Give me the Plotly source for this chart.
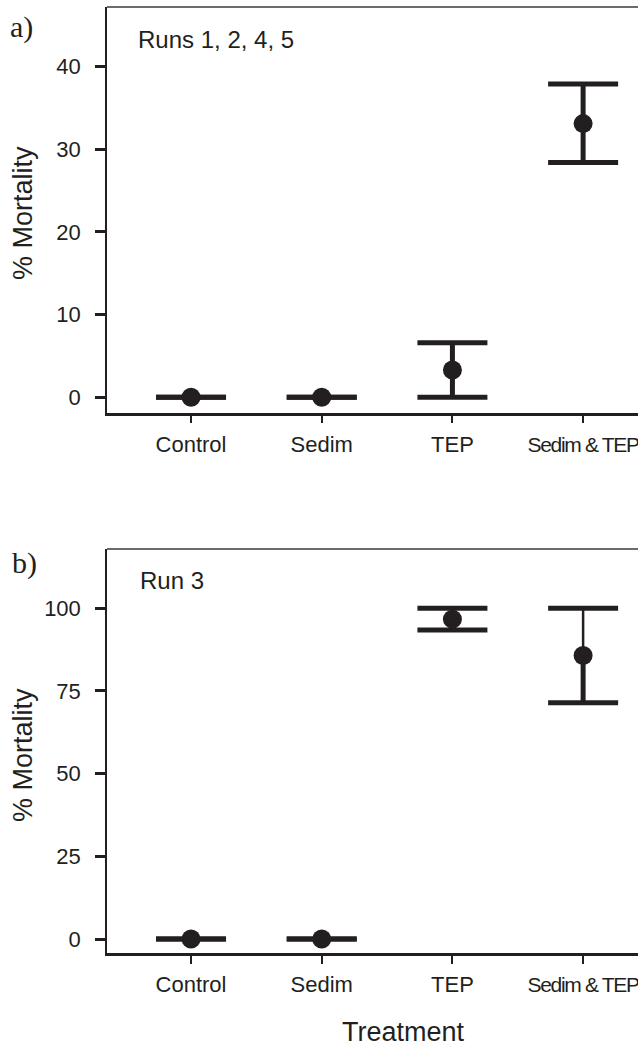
import plotly.graph_objects as go

# ---------------- data ----------------
categories = ["Control", "Sedim", "TEP", "Sedim & TEP"]

a_mean = [0.0, 0.0, 3.3, 33.1]
a_err_up = [0.0, 0.0, 3.3, 4.8]
a_err_down = [0.0, 0.0, 3.3, 4.7]

b_mean = [0.0, 0.0, 96.7, 85.7]
b_err_up = [0.0, 0.0, 3.3, 14.3]
b_err_down = [0.0, 0.0, 3.3, 14.3]

a_ticks = [0, 10, 20, 30, 40]
b_ticks = [0, 25, 50, 75, 100]

panel_labels = ["a)", "b)"]
panel_notes = ["Runs 1, 2, 4, 5", "Run 3"]
y_title = "% Mortality"
x_title = "Treatment"

# ---------------- style / layout ----------------
INK = "#231f20"
SANS = "Liberation Sans, Arial, Helvetica, sans-serif"
SERIF = "Liberation Serif, Times New Roman, serif"
W, H = 638, 1047
ML, MR, MT, MB = 107, 0, 7, 1047 - 953
PW, PH = W - ML - MR, H - MT - MB


def px_x(px):
    """screen x -> paper x"""
    return (px - ML) / PW


def px_y(py):
    """screen y -> paper y"""
    return (H - MB - py) / PH


fig = go.Figure()

panels = [
    dict(mean=a_mean, up=a_err_up, down=a_err_down, xa="x", ya="y", up_thick=5),
    dict(mean=b_mean, up=b_err_up, down=b_err_down, xa="x2", ya="y2", up_thick=2.5),
]

for p in panels:
    zeros = [0.0] * len(categories)
    # lower stems
    fig.add_trace(go.Scatter(
        x=categories, y=p["mean"], mode="markers", xaxis=p["xa"], yaxis=p["ya"],
        marker=dict(size=1, opacity=0, color=INK),
        error_y=dict(type="data", symmetric=False, array=zeros, arrayminus=p["down"],
                     width=0, thickness=5, color=INK),
        showlegend=False, hoverinfo="skip"))
    # upper stems
    fig.add_trace(go.Scatter(
        x=categories, y=p["mean"], mode="markers", xaxis=p["xa"], yaxis=p["ya"],
        marker=dict(size=1, opacity=0, color=INK),
        error_y=dict(type="data", symmetric=False, array=p["up"], arrayminus=zeros,
                     width=0, thickness=p["up_thick"], color=INK),
        showlegend=False, hoverinfo="skip"))
    # caps
    cap_y = [m + u for m, u in zip(p["mean"], p["up"])] + \
            [m - d for m, d in zip(p["mean"], p["down"])]
    fig.add_trace(go.Scatter(
        x=categories + categories, y=cap_y, mode="markers", xaxis=p["xa"], yaxis=p["ya"],
        marker=dict(symbol="line-ew", size=50, color=INK, line=dict(width=5, color=INK)),
        showlegend=False, hoverinfo="skip"))
    # means
    fig.add_trace(go.Scatter(
        x=categories, y=p["mean"], mode="markers", xaxis=p["xa"], yaxis=p["ya"],
        marker=dict(symbol="circle", size=19, color=INK),
        showlegend=False, hoverinfo="skip"))

# the last (long) category label is set tighter, as in the original
tick_text = [c if len(c) < 8 else
             '<span style="font-size:21px;letter-spacing:-1.3px">%s</span>' % c
             for c in categories]

xcommon = dict(
    type="category", categoryorder="array", categoryarray=categories,
    tickvals=categories, ticktext=tick_text,
    range=[-0.643, 3.42], showline=True, linewidth=2.5, linecolor=INK,
    ticks="outside", ticklen=8, tickwidth=2, tickcolor=INK,
    tickfont=dict(family=SANS, size=22, color=INK), ticklabelstandoff=2,
    showgrid=False, zeroline=False, domain=[0, 1])
ycommon = dict(
    showline=True, linewidth=1.5, linecolor=INK,
    ticks="outside", ticklen=10, tickwidth=2.5, tickcolor=INK,
    tickfont=dict(family=SANS, size=22, color=INK), ticklabelstandoff=10,
    showgrid=False, zeroline=False)

a_dom = [px_y(412.7), 1.0]
b_dom = [0.0, px_y(549)]

fig.update_layout(
    width=W, height=H,
    margin=dict(l=ML, r=MR, t=MT, b=MB),
    paper_bgcolor="white", plot_bgcolor="white",
    xaxis=dict(xcommon, anchor="y"),
    yaxis=dict(ycommon, domain=a_dom, range=[-1.86, 47.2], tickvals=a_ticks,
               ticktext=[str(t) for t in a_ticks], anchor="x"),
    xaxis2=dict(xcommon, anchor="y2"),
    yaxis2=dict(ycommon, domain=b_dom, range=[-4.23, 117.9], tickvals=b_ticks,
                ticktext=[str(t) for t in b_ticks], anchor="x2"),
)

# top frame lines
for yref in ["y domain", "y2 domain"]:
    fig.add_shape(type="line", xref=yref.replace("y", "x"), yref=yref,
                  x0=0, x1=1, y0=1, y1=1, line=dict(color="#3a3a3a", width=1.5))

annos = []
# panel letters
for lab, (cx, cy) in zip(panel_labels, [(21, 27), (24, 563)]):
    annos.append(dict(text=lab, x=px_x(cx), y=px_y(cy), xref="paper", yref="paper",
                      xanchor="center", yanchor="middle", showarrow=False,
                      font=dict(family=SERIF, size=30, color=INK)))
# notes
for note, (lx, cy) in zip(panel_notes, [(136, 39), (138, 580)]):
    annos.append(dict(text=note, x=px_x(lx), y=px_y(cy), xref="paper", yref="paper",
                      xanchor="left", yanchor="middle", showarrow=False,
                      font=dict(family=SANS, size=24, color=INK)))
# y titles
for cy in [213, 755]:
    annos.append(dict(text=y_title, x=px_x(23), y=px_y(cy), xref="paper", yref="paper",
                      xanchor="center", yanchor="middle", textangle=-90, showarrow=False,
                      font=dict(family=SANS, size=27, color=INK)))
# x title
annos.append(dict(text=x_title, x=px_x(403), y=px_y(1032), xref="paper", yref="paper",
                  xanchor="center", yanchor="middle", showarrow=False,
                  font=dict(family=SANS, size=27, color=INK)))

fig.update_layout(annotations=annos)

# remove the default page margin so the figure fills the window exactly
fig.write_html("out.html",
               config={"displayModeBar": False},
               post_script="document.body.style.margin='0';"
                           "document.body.style.overflow='hidden';")
